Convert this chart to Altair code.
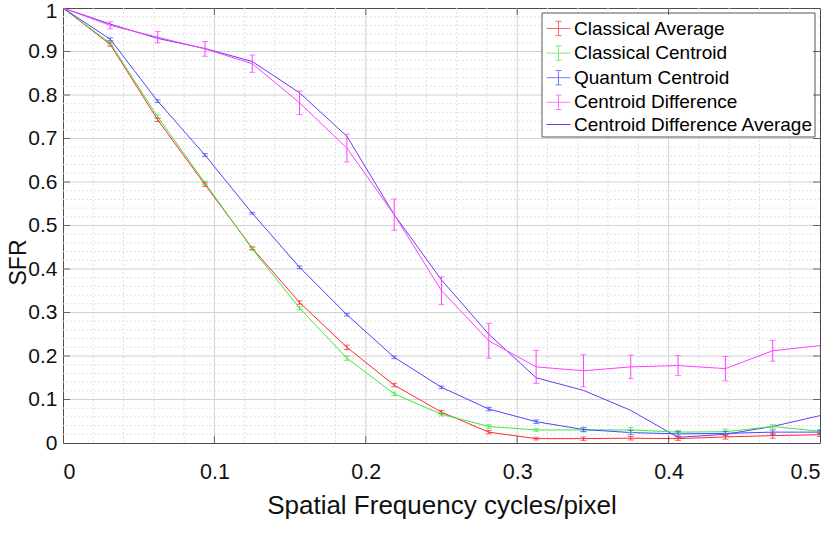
import altair as alt
import pandas as pd

# ---------------- data ----------------
x_vals = [0.0, 0.03125, 0.0625, 0.09375, 0.125, 0.15625, 0.1875, 0.21875, 0.25,
          0.28125, 0.3125, 0.34375, 0.375, 0.40625, 0.4375, 0.46875, 0.5]

classical_average = [1.0, 0.916, 0.743, 0.594, 0.448, 0.323, 0.220, 0.133, 0.071,
                     0.025, 0.010, 0.010, 0.011, 0.010, 0.014, 0.017, 0.019]
classical_average_err = [0.0, 0.004, 0.004, 0.004, 0.003, 0.004, 0.005, 0.004, 0.004,
                         0.004, 0.003, 0.004, 0.004, 0.004, 0.005, 0.006, 0.004]

classical_centroid = [1.0, 0.919, 0.750, 0.598, 0.446, 0.310, 0.195, 0.113, 0.066,
                      0.038, 0.030, 0.030, 0.030, 0.025, 0.026, 0.038, 0.027]
classical_centroid_err = [0.0, 0.004, 0.004, 0.004, 0.003, 0.004, 0.005, 0.004, 0.004,
                          0.004, 0.003, 0.004, 0.006, 0.004, 0.006, 0.004, 0.004]

quantum_centroid = [1.0, 0.928, 0.786, 0.662, 0.528, 0.404, 0.295, 0.197, 0.128,
                    0.078, 0.049, 0.031, 0.024, 0.021, 0.022, 0.025, 0.025]
quantum_centroid_err = [0.0, 0.003, 0.003, 0.003, 0.002, 0.003, 0.003, 0.003, 0.003,
                        0.004, 0.004, 0.005, 0.005, 0.005, 0.005, 0.005, 0.004]

centroid_difference = [1.0, 0.960, 0.933, 0.906, 0.872, 0.782, 0.678, 0.525, 0.350,
                       0.235, 0.175, 0.166, 0.175, 0.178, 0.171, 0.212, 0.224]
centroid_difference_err = [0.0, 0.008, 0.013, 0.017, 0.020, 0.027, 0.032, 0.036, 0.032,
                           0.040, 0.038, 0.037, 0.027, 0.023, 0.028, 0.024, 0.0]

centroid_difference_avg = [1.0, 0.963, 0.930, 0.907, 0.877, 0.805, 0.705, 0.525, 0.375,
                           0.250, 0.150, 0.121, 0.075, 0.013, 0.020, 0.038, 0.063]

series_names = ["Classical Average", "Classical Centroid", "Quantum Centroid", "Centroid Difference"]
series_colors = ["#ff2b2b", "#3ee83e", "#4646ff", "#ff40ff"]
avg_name = "Centroid Difference Average"
avg_color = "#6a3cf5"

x_major = [0.1, 0.2, 0.3, 0.4]
x_ticks = [0, 0.1, 0.2, 0.3, 0.4, 0.5]
y_major = [0.1, 0.2, 0.3, 0.4, 0.5, 0.6, 0.7, 0.8, 0.9]
y_ticks = [0, 0.1, 0.2, 0.3, 0.4, 0.5, 0.6, 0.7, 0.8, 0.9, 1.0]
x_minor = [round(i * 0.02, 2) for i in range(1, 25) if i % 5 != 0]
y_minor = [round(i * 0.02, 2) for i in range(1, 50) if i % 5 != 0]

# ---------------- tables ----------------
rows = []
for name, vals, errs in zip(series_names,
                            [classical_average, classical_centroid, quantum_centroid, centroid_difference],
                            [classical_average_err, classical_centroid_err, quantum_centroid_err, centroid_difference_err]):
    for xv, yv, ev in zip(x_vals, vals, errs):
        rows.append({"x": xv, "y": yv, "lo": yv - ev, "hi": yv + ev, "err": ev, "series": name})
df = pd.DataFrame(rows)
df_err = df[df["err"] > 0]
df_avg = pd.DataFrame({"x": x_vals, "y": centroid_difference_avg, "name": avg_name})

FONT = "Liberation Sans"
W, H = 757, 435
XT = "Spatial Frequency cycles/pixel"
YT = "SFR"

xscale = alt.Scale(domain=[0, 0.5], nice=False, zero=False)
yscale = alt.Scale(domain=[0, 1], nice=False, zero=False)

x_axis = alt.Axis(values=x_ticks, format=".1~f", grid=False, tickSize=0, domain=False,
                  labelFontSize=21.5, labelPadding=18, labelColor="#111", labelFont=FONT,
                  titleFontSize=26, titleFont=FONT, titleFontWeight="normal",
                  titleColor="#111", titlePadding=10)
y_axis = alt.Axis(values=y_ticks, format=".1~f", grid=False, tickSize=0, domain=False,
                  labelFontSize=21, labelPadding=6, labelColor="#111", labelFont=FONT,
                  labelOffset={"condition": {"test": "datum.value === 1", "value": 3}, "value": 0},
                  titleFontSize=23, titleFont=FONT, titleFontWeight="normal",
                  titleColor="#111", titleX=-45, titleY=254, titleBaseline="middle")

def X(field):
    return alt.X(field, scale=xscale, axis=x_axis, title=XT)

def Y(field):
    return alt.Y(field, scale=yscale, axis=y_axis, title=YT)

# grid
gminx = alt.Chart(pd.DataFrame({"gx": x_minor})).mark_rule(
    color="#e2e2e2", strokeDash=[2, 2], strokeWidth=1).encode(x=X("gx:Q"))
gminy = alt.Chart(pd.DataFrame({"gy": y_minor})).mark_rule(
    color="#e2e2e2", strokeDash=[2, 2], strokeWidth=1).encode(y=Y("gy:Q"))
gmajx = alt.Chart(pd.DataFrame({"gx": x_major})).mark_rule(
    color="#d2d2d2", strokeWidth=1).encode(x=X("gx:Q"))
gmajy = alt.Chart(pd.DataFrame({"gy": y_major})).mark_rule(
    color="#d2d2d2", strokeWidth=1).encode(y=Y("gy:Q"))

# legend box
box = alt.Chart(pd.DataFrame({"a": [0]})).mark_rect(
    fill="white", stroke="#555555", strokeWidth=1).encode(
    x=alt.value(479), x2=alt.value(752), y=alt.value(5), y2=alt.value(129))

errbar_path = "M-1,0H1M0,-0.6V0.6M-0.25,-0.6H0.25M-0.25,0.6H0.25"
legend4 = alt.Legend(title=None, orient="none", legendX=479, legendY=4, padding=4,
                     rowPadding=1.6, symbolSize=576, symbolType=errbar_path,
                     symbolStrokeWidth=1, labelFont=FONT, labelFontSize=19,
                     labelColor="#000", labelOffset=3, labelLimit=400)
color4 = alt.Color("series:N", scale=alt.Scale(domain=series_names, range=series_colors),
                   legend=legend4)

lines4 = alt.Chart(df).mark_line(strokeWidth=1, clip=True).encode(
    x=X("x:Q"), y=Y("y:Q"), color=color4, detail="series:N")
rules4 = alt.Chart(df_err).mark_rule(strokeWidth=1, clip=True).encode(
    x=X("x:Q"), y=Y("lo:Q"), y2="hi:Q", color=color4)
caps_lo = alt.Chart(df_err).mark_tick(orient="horizontal", size=6, thickness=1, clip=True).encode(
    x=X("x:Q"), y=Y("lo:Q"), color=color4)
caps_hi = alt.Chart(df_err).mark_tick(orient="horizontal", size=6, thickness=1, clip=True).encode(
    x=X("x:Q"), y=Y("hi:Q"), color=color4)
group4 = alt.layer(lines4, rules4, caps_lo, caps_hi)

legend_avg = alt.Legend(title=None, orient="none", legendX=479, legendY=100, padding=4,
                        rowPadding=0, symbolSize=576, symbolType="M-1,0H1",
                        symbolStrokeWidth=1, labelFont=FONT, labelFontSize=19,
                        labelColor="#000", labelOffset=3, labelLimit=400)
avg_line = alt.Chart(df_avg).mark_line(strokeWidth=1, clip=True).encode(
    x=X("x:Q"), y=Y("y:Q"),
    color=alt.Color("name:N", scale=alt.Scale(domain=[avg_name], range=[avg_color]),
                    legend=legend_avg))

# inward ticks on all four sides
tdf_x = pd.DataFrame({"tx": x_major})
tdf_y = pd.DataFrame({"ty": y_major})
tick_b = alt.Chart(tdf_x).mark_tick(orient="vertical", size=7, thickness=1, color="#333").encode(
    x=X("tx:Q"), y=alt.value(H - 3.5))
tick_t = alt.Chart(tdf_x).mark_tick(orient="vertical", size=7, thickness=1, color="#333").encode(
    x=X("tx:Q"), y=alt.value(3.5))
tick_l = alt.Chart(tdf_y).mark_tick(orient="horizontal", size=7, thickness=1, color="#333").encode(
    y=Y("ty:Q"), x=alt.value(3.5))
tick_r = alt.Chart(tdf_y).mark_tick(orient="horizontal", size=7, thickness=1, color="#333").encode(
    y=Y("ty:Q"), x=alt.value(W - 3.5))

chart = alt.layer(
    gminx, gminy, gmajx, gmajy, box, avg_line, group4, tick_b, tick_t, tick_l, tick_r
).resolve_scale(color="independent").properties(
    width=W, height=H, autosize="none",
    padding={"left": 63, "top": 8, "right": 16, "bottom": 93},
    background="white",
).configure_view(stroke="#4d4d4d", strokeWidth=1)

chart.save("out.html", embed_options={"renderer": "svg", "actions": False})
